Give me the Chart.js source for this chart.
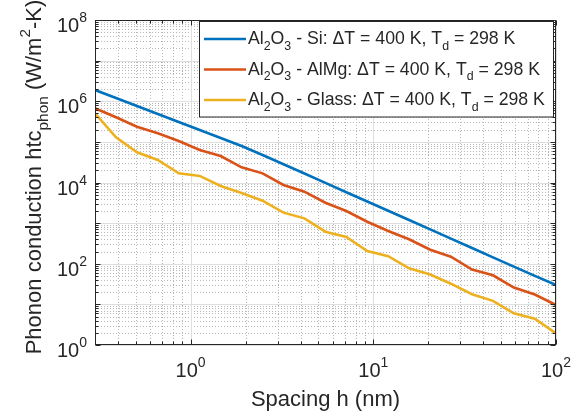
<!DOCTYPE html>
<html>
<head>
<meta charset="utf-8">
<script src="https://cdn.jsdelivr.net/npm/chart.js"></script>
<style>
  html, body { margin: 0; padding: 0; background: #fff; }
  #wrap { width: 585px; height: 420px; }
</style>
</head>
<body>
<div id="wrap"><canvas id="htcChart" width="585" height="420"></canvas></div>
<script>
// spacing h (nm) and phonon conduction htc (W/m^2-K) for each substrate
const spacing = [0.3, 0.391, 0.509, 0.662, 0.862, 1.123, 1.462, 1.903, 2.478, 3.226, 4.20, 5.47,
  7.12, 9.27, 12.07, 15.7, 20.5, 26.6, 34.7, 45.2, 58.8, 76.6, 100];
const htcSi = [1.89e6, 1.20e6, 7.64e5, 4.85e5, 3.08e5, 1.96e5, 1.25e5, 7.91e4, 4.75e4, 2.81e4, 1.66e4, 9780,
  5770, 3410, 2010, 1190, 701, 414, 244, 144, 85.1, 50.2, 30.0];
const htcAlMg = [6.70e5, 4.03e5, 2.36e5, 1.63e5, 1.05e5, 6.31e4, 4.49e4, 2.37e4, 1.68e4, 8680, 5940, 3180,
  1990, 1080, 640, 400, 222, 149, 72.2, 52.0, 26.0, 17.5, 9.65];
const htcGlass = [5.05e5, 1.30e5, 5.54e4, 3.58e4, 1.68e4, 1.45e4, 8200, 5520, 3560, 1810, 1310, 615,
  455, 206, 153, 77.3, 54.4, 32.3, 17.8, 12.2, 6.03, 4.42, 1.94];
const xTickExps = [0, 1, 2];
const yTickExps = [0, 2, 4, 6, 8];
const substrates = ['Si', 'AlMg', 'Glass'];

const colors = ['#0072BD', '#D95319', '#EDB120'];
const FONT = '"Liberation Sans", Arial, Helvetica, sans-serif';
const AXIS_COLOR = '#262626';

// text with sub/superscripts: parts = [[text, ''|'sub'|'sup'], ...]
function richText(ctx, parts, x, y, size, draw) {
  let w = 0;
  parts.forEach(([t, mode]) => {
    const s = mode ? size * 0.7 : size;
    const dy = mode === 'sub' ? size * 0.33 : mode === 'sup' ? -size * 0.5 : 0;
    ctx.font = s + 'px ' + FONT;
    if (draw) ctx.fillText(t, x + w, y + dy);
    w += ctx.measureText(t).width;
  });
  return w;
}

function logValues(lo, hi) {
  const major = [], minor = [];
  for (let e = Math.floor(Math.log10(lo)); e <= Math.ceil(Math.log10(hi)); e++) {
    for (let k = 1; k <= 9; k++) {
      const v = k * Math.pow(10, e);
      if (v < lo * 0.999 || v > hi * 1.001) continue;
      (k === 1 ? major : minor).push(v);
    }
  }
  return { major, minor };
}

const plotDecor = {
  id: 'plotDecor',
  beforeDraw(chart) {
    const ctx = chart.ctx;
    ctx.save();
    ctx.fillStyle = '#fff';
    ctx.fillRect(0, 0, chart.width, chart.height);
    ctx.restore();
  },
  beforeDatasetsDraw(chart) {
    const { ctx, chartArea: a, scales: { x, y } } = chart;
    const xv = logValues(x.min, x.max), yv = logValues(y.min, y.max);
    ctx.save();
    ctx.lineWidth = 1;
    // minor grid, dotted
    ctx.strokeStyle = '#b8b8b8';
    ctx.setLineDash([1, 2]);
    ctx.beginPath();
    xv.minor.forEach(v => { const p = Math.round(x.getPixelForValue(v)) + 0.5; ctx.moveTo(p, a.top); ctx.lineTo(p, a.bottom); });
    yv.minor.forEach(v => { const p = Math.round(y.getPixelForValue(v)) + 0.5; ctx.moveTo(a.left, p); ctx.lineTo(a.right, p); });
    ctx.stroke();
    // major grid, solid
    ctx.setLineDash([]);
    ctx.strokeStyle = '#dedede';
    ctx.beginPath();
    xv.major.forEach(v => { const p = Math.round(x.getPixelForValue(v)) + 0.5; ctx.moveTo(p, a.top); ctx.lineTo(p, a.bottom); });
    yv.major.forEach(v => { const p = Math.round(y.getPixelForValue(v)) + 0.5; ctx.moveTo(a.left, p); ctx.lineTo(a.right, p); });
    ctx.stroke();
    ctx.restore();
  },
  afterDatasetsDraw(chart) {
    const { ctx, chartArea: a, scales: { x, y } } = chart;
    const xv = logValues(x.min, x.max), yv = logValues(y.min, y.max);
    const L = Math.round(a.left) + 0.5, R = Math.round(a.right) - 0.5;
    const T = Math.round(a.top) + 0.5, B = Math.round(a.bottom) - 0.5;
    ctx.save();
    ctx.strokeStyle = AXIS_COLOR;
    ctx.lineWidth = 1;
    ctx.beginPath();
    // tick marks on all four sides, pointing inward
    const xt = (v, len) => { const p = Math.round(x.getPixelForValue(v)) + 0.5;
      ctx.moveTo(p, B); ctx.lineTo(p, B - len); ctx.moveTo(p, T); ctx.lineTo(p, T + len); };
    const yt = (v, len) => { const p = Math.round(y.getPixelForValue(v)) + 0.5;
      ctx.moveTo(L, p); ctx.lineTo(L + len, p); ctx.moveTo(R, p); ctx.lineTo(R - len, p); };
    xv.major.forEach(v => xt(v, 5)); xv.minor.forEach(v => xt(v, 3));
    yv.major.forEach(v => yt(v, 5)); yv.minor.forEach(v => yt(v, 3));
    ctx.stroke();
    ctx.strokeRect(L, T, R - L, B - T);

    // tick labels 10^n
    ctx.fillStyle = AXIS_COLOR;
    ctx.textBaseline = 'alphabetic';
    ctx.textAlign = 'left';
    xTickExps.forEach(e => {
      const parts = [['10', ''], [String(e), 'sup']];
      const w = richText(ctx, parts, 0, 0, 20, false);
      const px = x.getPixelForValue(Math.pow(10, e));
      richText(ctx, parts, px - w / 2, 377, 20, true);
    });
    yTickExps.forEach(e => {
      const parts = [['10', ''], [String(e), 'sup']];
      const w = richText(ctx, parts, 0, 0, 20, false);
      const py = y.getPixelForValue(Math.pow(10, e));
      richText(ctx, parts, 87 - w, py + 12, 20, true);
    });

    // axis titles
    const xTitle = [['Spacing h (nm)', '']];
    const xw = richText(ctx, xTitle, 0, 0, 22, false);
    richText(ctx, xTitle, (a.left + a.right) / 2 - xw / 2, 406, 22, true);

    const yTitle = [['Phonon conduction htc', ''], ['phon', 'sub'], [' (W/m', ''], ['2', 'sup'], ['-K)', '']];
    const yw = richText(ctx, yTitle, 0, 0, 22, false);
    ctx.save();
    ctx.translate(41, 177);
    ctx.rotate(-Math.PI / 2);
    richText(ctx, yTitle, -yw / 2, 0, 22, true);
    ctx.restore();

    // legend box
    const lx = 199.5, ly = 21.5, lw = 354, lh = 95.5;
    ctx.fillStyle = '#fff';
    ctx.fillRect(lx, ly, lw, lh);
    ctx.strokeStyle = AXIS_COLOR;
    ctx.strokeRect(lx, ly, lw, lh);
    substrates.forEach((name, i) => {
      const base = 44 + i * 30.5;
      ctx.strokeStyle = colors[i];
      ctx.lineWidth = 2.6;
      ctx.beginPath();
      ctx.moveTo(204, base - 5);
      ctx.lineTo(246, base - 5);
      ctx.stroke();
      ctx.fillStyle = AXIS_COLOR;
      richText(ctx, [['Al', ''], ['2', 'sub'], ['O', ''], ['3', 'sub'],
        [' - ' + name + ': \u0394T = 400 K, T', ''], ['d', 'sub'], [' = 298 K', '']], 248, base, 17.7, true);
    });
    ctx.restore();
  }
};

const makeSeries = (label, values, color) => ({
  label,
  data: spacing.map((h, i) => ({ x: h, y: values[i] })),
  borderColor: color,
  backgroundColor: color,
  borderWidth: 2.6,
  pointRadius: 0,
  tension: 0,
  fill: false
});

new Chart(document.getElementById('htcChart'), {
  type: 'line',
  data: {
    datasets: [
      makeSeries('Al2O3 - Si', htcSi, colors[0]),
      makeSeries('Al2O3 - AlMg', htcAlMg, colors[1]),
      makeSeries('Al2O3 - Glass', htcGlass, colors[2])
    ]
  },
  options: {
    responsive: false,
    animation: false,
    devicePixelRatio: 1,
    layout: { padding: { left: 95, right: 29, top: 20, bottom: 75 } },
    scales: {
      x: { type: 'logarithmic', min: 0.3, max: 100, display: false },
      y: { type: 'logarithmic', min: 1, max: 1e8, display: false }
    },
    plugins: {
      legend: { display: false },
      tooltip: { enabled: false }
    }
  },
  plugins: [plotDecor]
});
</script>
</body>
</html>
